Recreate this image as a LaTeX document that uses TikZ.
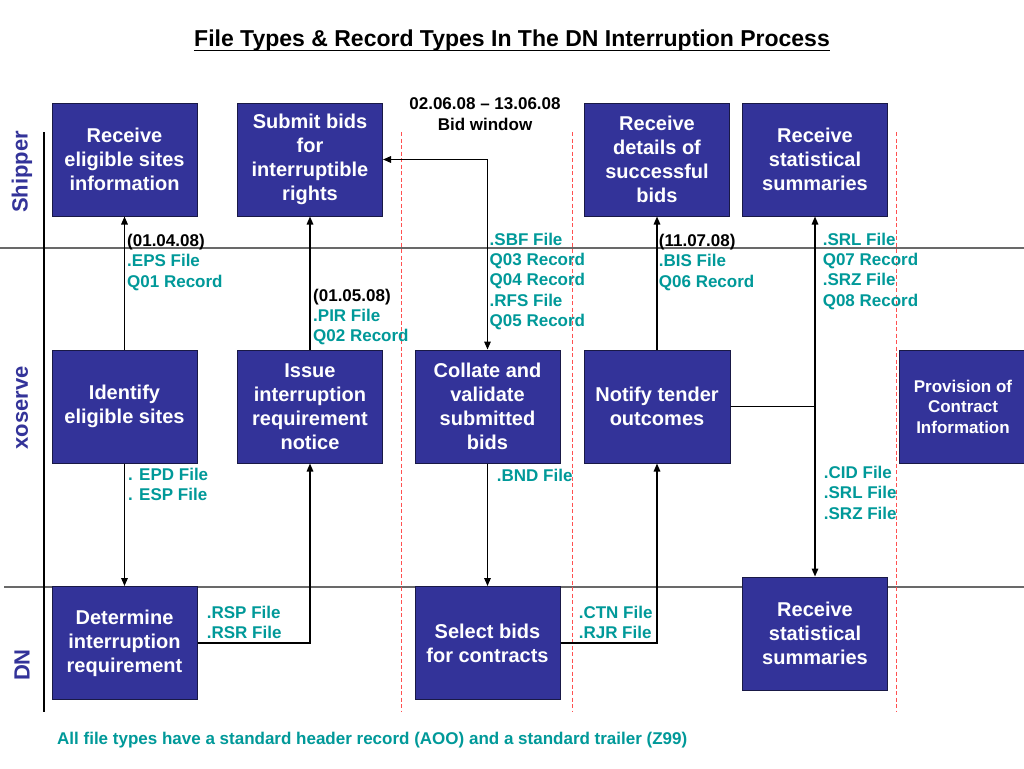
\documentclass[tikz,border=0pt]{standalone}
\usepackage{fontspec}
\setmainfont{Liberation Sans}
\usetikzlibrary{arrows.meta}
\definecolor{boxblue}{RGB}{51,51,153}
\definecolor{boxedge}{RGB}{25,25,70}
\definecolor{tealtxt}{RGB}{0,153,153}
\definecolor{lanegrey}{RGB}{105,105,105}
\definecolor{dashred}{RGB}{255,80,80}
\begin{document}
\begin{tikzpicture}[x=1pt,y=-1pt,
  procbox/.style={draw=boxedge, line width=1pt, fill=boxblue, text=white,
    font=\fontsize{20}{24}\selectfont\bfseries, align=center,
    minimum width=145pt, minimum height=113pt, inner sep=0pt},
  smallbox/.style={procbox, font=\fontsize{17}{20.5}\selectfont\bfseries},
  lbl/.style={text=tealtxt, font=\fontsize{17}{20.3}\selectfont\bfseries,
    align=left, anchor=north west, inner sep=0pt},
  lanelbl/.style={text=boxblue, font=\fontsize{22}{26}\selectfont\bfseries,
    rotate=90, inner sep=0pt},
  conn/.style={line width=1.5pt, -{Triangle[length=8pt,width=6.5pt]}},
  connboth/.style={line width=1.5pt, {Triangle[length=8pt,width=6.5pt]}-{Triangle[length=8pt,width=6.5pt]}},
  laneline/.style={draw=lanegrey, line width=1.5pt},
  phaseline/.style={draw=dashred, line width=1pt, dash pattern=on 4pt off 2.5pt}
]
\useasboundingbox (0,0) rectangle (1024,768);
\fill[white] (0,0) rectangle (1024,768);

% title
\node[font=\fontsize{23}{27}\selectfont\bfseries, inner sep=0pt, anchor=base] (title) at (512,46.7)
  {File Types \& Record Types In The DN Interruption Process};
\draw[line width=1.8pt] ([yshift=-3.9pt]title.base west) -- ([yshift=-3.9pt]title.base east);

% lanes
\draw[laneline] (0,248) -- (1024,248);
\draw[laneline] (4,587) -- (1024,587);
\draw[line width=1.4pt] (44,132) -- (44,712);
\draw[phaseline] (401,132) -- (401,712);
\draw[phaseline] (572,132) -- (572,712);
\draw[phaseline] (896,132) -- (896,712);

\node[lanelbl] (lship) at (22,172) {Shipper};
\node[lanelbl] (lxo) at (22,408) {xoserve};
\node[lanelbl] (ldn) at (22,665) {DN};

% bid window
\node[font=\fontsize{17}{21}\selectfont\bfseries, align=center, inner sep=0pt] (bidwin) at (485,114.5)
  {02.06.08 -- 13.06.08\\Bid window};

% boxes
\node[procbox] (recv) at (124.5,159.5) {Receive\\eligible sites\\information};
\node[procbox] (sub) at (310,159.5) {Submit bids\\for\\interruptible\\rights};
\node[procbox] (succ) at (657,159.5) {Receive\\details of\\successful\\bids};
\node[procbox] (stattop) at (815,159.5) {Receive\\statistical\\summaries};

\node[procbox] (ident) at (124.5,406.5) {Identify\\eligible sites};
\node[procbox] (issue) at (310,406.5) {Issue\\interruption\\requirement\\notice};
\node[procbox] (coll) at (487.5,406.5) {Collate and\\validate\\submitted\\bids};
\node[procbox, minimum width=146pt] (notify) at (657,406.5) {Notify tender\\outcomes};
\node[smallbox, minimum width=128pt] (prov) at (963,406.5) {Provision of\\Contract\\Information};

\node[procbox] (det) at (124.5,643) {Determine\\interruption\\requirement};
\node[procbox] (sel) at (487.5,643) {Select bids\\for contracts};
\node[procbox] (statbot) at (815,633.5) {Receive\\statistical\\summaries};

% connectors
\draw[conn] (ident.north) -- (recv.south);
\draw[conn] (issue.north) -- (sub.south);
\draw[connboth] (sub.east) -| (coll.north);
\draw[conn] (notify.north) -- (succ.south);
\draw[conn] (notify.east) -| (stattop.south);
\draw[conn] (notify.east) -| (statbot.north);
\draw[conn] (ident.south) -- (det.north);
\draw[conn] (det.east) -| (issue.south);
\draw[conn] (coll.south) -- (sel.north);
\draw[conn] (sel.east) -| (notify.south);

% labels
\node[lbl] (leps) at (127,234) {\textcolor{black}{(01.04.08)}\\.EPS File\\Q01 Record};
\node[lbl] (lpir) at (313,288.8) {\textcolor{black}{(01.05.08)}\\.PIR File\\Q02 Record};
\node[lbl] (lsbf) at (489.5,232.8) {.SBF File\\Q03 Record\\Q04 Record\\.RFS File\\Q05 Record};
\node[lbl] (lbis) at (658.7,234) {\textcolor{black}{(11.07.08)}\\.BIS File\\Q06 Record};
\node[lbl] (lsrl) at (822.6,232.8) {.SRL File\\Q07 Record\\.SRZ File\\Q08 Record};
\node[lbl] (lepd) at (128,468.1) {. EPD File\\. ESP File};
\node[lbl] (lbnd) at (496.7,468.5) {.BND File};
\node[lbl] (lcid) at (823.7,466.1) {.CID File\\.SRL File\\.SRZ File};
\node[lbl] (lrsp) at (206.7,605.5) {.RSP File\\.RSR File};
\node[lbl] (lctn) at (578.6,605.5) {.CTN File\\.RJR File};

\node[lbl, anchor=west, font=\fontsize{17}{20}\selectfont\bfseries] (foot) at (57,740)
  {All file types have a standard header record (AOO) and a standard trailer (Z99)};
\end{tikzpicture}
\end{document}
